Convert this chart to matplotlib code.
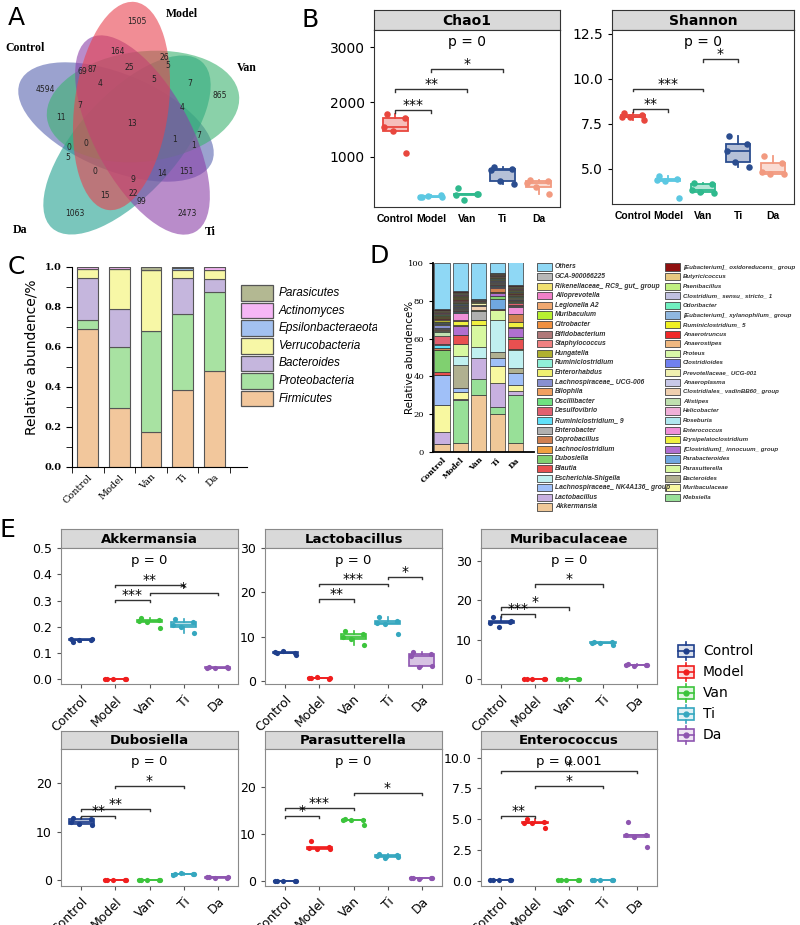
import numpy as np
import matplotlib.pyplot as plt
from matplotlib.patches import Ellipse, Rectangle
from matplotlib.colors import to_rgba

W, H = 800, 925

# ---------------- data ----------------
groups = ['Control', 'Model', 'Van', 'Ti', 'Da']

# A: Venn counts and where each number sits
venn_counts = [1505, 164, 26, 5, 25, 69, 87, 4, 5, 7, 865, 4594, 7, 4, 11, 13,
               7, 1, 1, 0, 0, 5, 0, 151, 14, 9, 15, 22, 99, 1063, 2473]
venn_xy = [(137, 22), (117, 51), (164, 58), (168, 66), (129, 67), (82, 71), (92, 69),
           (100, 84), (154, 80), (190, 84), (220, 96), (45, 90), (80, 106), (182, 107),
           (61, 118), (132, 123), (199, 135), (175, 140), (194, 145), (86, 143), (69, 148),
           (68, 158), (95, 172), (186, 171), (162, 174), (133, 179), (105, 196),
           (133, 194), (141, 201), (75, 213), (187, 213)]

# B: alpha diversity
chao1 = [[1782, 1718, 1545, 1470, 1073],
         [280, 300, 265, 290, 270],
         [440, 330, 310, 220, 320],
         [820, 780, 760, 560, 510],
         [590, 570, 530, 460, 320]]
shannon = [[8.1, 8.0, 7.9, 7.85, 7.7],
           [4.6, 4.45, 4.4, 4.35, 3.4],
           [4.2, 4.15, 3.85, 3.7, 3.65],
           [6.8, 6.4, 6.0, 5.4, 5.1],
           [5.7, 5.35, 4.8, 4.7, 4.7]]
chao1_sig = [(1, 2, 1855, '***'), (1, 3, 2236, '**'), (2, 4, 2600, '*')]
shannon_sig = [(1, 2, 8.33, '**'), (1, 3, 9.44, '***'), (3, 4, 11.1, '*')]

# C: phylum level
phyla = ['Firmicutes', 'Proteobacteria', 'Bacteroides', 'Verrucobacteria',
         'Epsilonbacteraeota', 'Actinomyces', 'Parasicutes']
phy_firmicutes = [0.69, 0.297, 0.177, 0.385, 0.48]
phy_proteo = [0.045, 0.303, 0.503, 0.38, 0.396]
phy_bacteroides = [0.21, 0.19, 0.0, 0.18, 0.064]
phy_verruco = [0.045, 0.20, 0.305, 0.04, 0.045]
phy_epsilon = [0.0, 0.0, 0.0, 0.01, 0.0]
phy_actino = [0.01, 0.01, 0.0, 0.005, 0.015]
phy_parasi = [0.0, 0.0, 0.015, 0.0, 0.0]

# D: genus level (stack order, bottom -> top)
d_taxa = ['Akkermansia', 'Klebsiella', 'Lactobacillus', 'Muribaculaceae',
          'Lachnospiraceae_ NK4A136_ group', 'Bacteroides', 'Escherichia-Shigella',
          'Parasutterella', 'Blautia', 'Parabacteroides', 'Dubosiella',
          '[Clostridium]_ innocuum_ group', 'Lachnoclostridium', 'Erysipelatoclostridium',
          'Coprobacillus', 'Enterococcus', 'Enterobacter', 'Roseburia',
          'Ruminiclostridium_ 9', 'Helicobacter', 'Desulfovibrio', 'Alistipes',
          'Oscillibacter', 'Clostridiales_ vadinBB60_ group', 'Bilophila', 'Anaeroplasma',
          'Lachnospiraceae_ UCG-006', 'Prevotellaceae_ UCG-001', 'Enterorhabdus',
          'Clostridioides', 'Ruminiclostridium', 'Proteus', 'Hungatella', 'Anaerostipes',
          'Staphylococcus', 'Anaerotruncus', 'Bifidobacterium', 'Ruminiclostridium_ 5',
          'Citrobacter', '[Eubacterium]_ xylanophilum_ group', 'Muribaculum', 'Odoribacter',
          'Legionella A2', 'Clostridium_ sensu_ stricto_ 1', 'Alloprevotella',
          'Paenibacillus', 'Rikenellaceae_ RC9_ gut_ group', 'Butyricicoccus',
          'GCA-900066225', '[Eubacterium]_ oxidoreducens_ group', 'Others']
d_control = [4.0, 0.0, 6.5, 14.5, 16.0, 0.0, 0.0, 0.0, 1.5, 0.0,
             11.5, 0.0, 0.0, 0.0, 1.0, 0.0, 0.0, 0.0, 1.5, 0.5,
             4.5, 2.0, 0.5, 0.5, 0.5, 0.5, 1.5, 0.3, 0.5, 0.3,
             0.5, 0.3, 1.0, 0.3, 0.3, 0.3, 0.3, 0.3, 0.3, 0.3,
             0.3, 0.8, 0.3, 0.3, 0.3, 0.3, 0.3, 0.3, 0.3, 0.5, 24.3]
d_model = [4.5, 23.0, 0.7, 3.3, 2.5, 12.0, 5.0, 6.0, 5.0, 0.0,
           0.0, 4.5, 0.5, 2.5, 0.5, 3.5, 0.3, 0.3, 0.3, 0.3,
           0.5, 0.3, 0.3, 0.3, 0.3, 0.3, 0.5, 0.3, 0.5, 0.5,
           0.3, 0.3, 0.5, 0.3, 0.5, 0.3, 0.3, 0.3, 0.5, 0.3,
           0.3, 0.3, 0.3, 0.3, 0.3, 0.3, 0.3, 0.3, 0.3, 0.5, 14.7]
d_van = [30.0, 8.5, 11.5, 0.0, 0.0, 0.0, 5.5, 11.5, 0.0, 0.0,
         0.0, 0.0, 0.0, 3.0, 0.0, 0.0, 4.5, 0.0, 0.0, 0.0,
         0.0, 0.5, 0.0, 2.0, 0.0, 1.0, 0.0, 1.0, 0.5, 0.0,
         0.0, 0.5, 0.0, 0.0, 0.3, 0.0, 0.0, 0.0, 0.0, 0.0,
         0.0, 0.0, 0.0, 0.0, 0.0, 0.0, 0.0, 0.0, 0.4, 0.3, 19.0]
d_ti = [20.0, 4.0, 12.5, 9.0, 4.5, 3.0, 17.0, 5.0, 0.5, 5.5,
        1.3, 1.7, 0.5, 0.3, 2.0, 0.5, 0.3, 0.3, 0.3, 0.3,
        0.5, 0.3, 0.3, 0.3, 0.3, 0.3, 0.3, 0.3, 0.3, 0.3,
        0.3, 0.3, 0.5, 0.3, 0.1, 0.1, 0.1, 0.1, 0.1, 0.1,
        0.1, 0.1, 0.1, 0.1, 0.1, 0.1, 0.1, 0.1, 0.1, 0.1, 5.3]
d_da = [5.0, 25.0, 2.5, 3.0, 6.5, 2.5, 9.5, 0.5, 5.5, 0.0,
        0.7, 5.0, 0.3, 3.0, 4.0, 3.5, 0.3, 0.3, 0.3, 0.5,
        1.0, 0.3, 0.5, 0.3, 0.3, 0.3, 0.5, 0.3, 0.5, 0.3,
        0.3, 0.3, 0.3, 0.3, 0.3, 0.3, 0.3, 0.3, 0.3, 0.3,
        0.3, 0.3, 0.3, 0.3, 0.3, 0.3, 0.3, 0.3, 0.3, 0.3, 13.0]
d_legend_col1 = ['Others', 'GCA-900066225', 'Rikenellaceae_ RC9_ gut_ group', 'Alloprevotella',
                 'Legionella A2', 'Muribaculum', 'Citrobacter', 'Bifidobacterium',
                 'Staphylococcus', 'Hungatella', 'Ruminiclostridium', 'Enterorhabdus',
                 'Lachnospiraceae_ UCG-006', 'Bilophila', 'Oscillibacter', 'Desulfovibrio',
                 'Ruminiclostridium_ 9', 'Enterobacter', 'Coprobacillus', 'Lachnoclostridium',
                 'Dubosiella', 'Blautia', 'Escherichia-Shigella',
                 'Lachnospiraceae_ NK4A136_ group', 'Lactobacillus', 'Akkermansia']
d_legend_col2 = ['[Eubacterium]_ oxidoreducens_ group', 'Butyricicoccus', 'Paenibacillus',
                 'Clostridium_ sensu_ stricto_ 1', 'Odoribacter',
                 '[Eubacterium]_ xylanophilum_ group', 'Ruminiclostridium_ 5', 'Anaerotruncus',
                 'Anaerostipes', 'Proteus', 'Clostridioides', 'Prevotellaceae_ UCG-001',
                 'Anaeroplasma', 'Clostridiales_ vadinBB60_ group', 'Alistipes', 'Helicobacter',
                 'Roseburia', 'Enterococcus', 'Erysipelatoclostridium',
                 '[Clostridium]_ innocuum_ group', 'Parabacteroides', 'Parasutterella',
                 'Bacteroides', 'Muribaculaceae', 'Klebsiella']

# E: key genera
akkermansia = [[0.143, 0.148, 0.155, 0.150, 0.152], [0.0, 0.0, 0.0, 0.0, 0.0],
               [0.235, 0.225, 0.222, 0.218, 0.196], [0.228, 0.22, 0.205, 0.2, 0.178],
               [0.048, 0.045, 0.043, 0.042, 0.044]]
lactobacillus = [[6.4, 6.3, 6.5, 6.8, 5.8], [0.6, 0.5, 0.7, 0.8, 0.6],
                 [11.2, 10.5, 10.0, 9.5, 8.2], [14.5, 13.5, 13.0, 12.8, 10.6],
                 [6.6, 6.0, 5.6, 3.2, 3.3]]
muribaculaceae = [[15.7, 14.6, 14.2, 13.2, 14.8], [0.0, 0.0, 0.0, 0.0, 0.0],
                  [0.0, 0.0, 0.0, 0.0, 0.0], [9.5, 9.4, 9.3, 9.2, 8.6],
                  [4.0, 3.7, 3.6, 3.3, 3.5]]
dubosiella = [[12.8, 12.7, 12.0, 11.6, 11.5], [0.0, 0.0, 0.0, 0.0, 0.0],
              [0.0, 0.0, 0.0, 0.0, 0.0], [1.4, 1.3, 1.2, 1.5, 1.3],
              [0.7, 0.6, 0.7, 0.6, 0.7]]
parasutterella = [[0.0, 0.0, 0.0, 0.0, 0.0], [8.4, 7.2, 7.0, 6.8, 6.7],
                  [13.2, 13.0, 12.9, 12.9, 11.8], [5.7, 5.5, 5.2, 4.9, 5.0],
                  [0.7, 0.5, 0.6, 0.4, 0.7]]
enterococcus = [[0.05, 0.08, 0.05, 0.04, 0.06], [5.0, 4.8, 4.7, 4.65, 4.25],
                [0.08, 0.08, 0.08, 0.08, 0.08], [0.08, 0.08, 0.08, 0.08, 0.08],
                [4.75, 3.75, 3.7, 3.55, 2.75]]
akk_sig = [(2, 3, 0.303, '***'), (2, 4, 0.36, '**'), (3, 5, 0.33, '*')]
lac_sig = [(2, 3, 18.4, '**'), (2, 4, 21.9, '***'), (4, 5, 23.5, '*')]
mur_sig = [(1, 2, 16.5, '***'), (1, 3, 18.3, '*'), (2, 4, 24.1, '*')]
dub_sig = [(1, 2, 13.3, '**'), (1, 3, 14.8, '**'), (2, 4, 19.5, '*')]
par_sig = [(1, 2, 13.8, '*'), (1, 3, 15.5, '***'), (3, 5, 18.7, '*')]
ent_sig = [(1, 2, 5.28, '**'), (2, 4, 7.72, '*'), (1, 5, 8.92, '*')]

# ---------------- styling ----------------
venn_colors = {'Control': '#5965b0', 'Model': '#e8424e', 'Van': '#3cb371',
               'Ti': '#8b3fa8', 'Da': '#22a090'}
venn_ends = {'Control': ((20, 82), (212, 162)), 'Model': ((135, 2), (108, 210)),
             'Van': ((47, 118), (239, 95)), 'Ti': ((90, 38), (195, 232)),
             'Da': ((52, 228), (202, 62))}
venn_minor = {'Control': 96, 'Model': 94, 'Van': 110, 'Ti': 96, 'Da': 100}
b_colors = ['#e8473e', '#5cc8e2', '#2fb98d', '#2b4d8f', '#f29a80']
e_colors = ['#1f3f8c', '#f01e1e', '#3cc43c', '#35a7bf', '#8e55b0']
phy_colors = ['#f2c79c', '#a8e2a2', '#c5b6dd', '#f7f7a6', '#a3c1f0', '#f5b6f5', '#b3b892']
d_colors = {
    'Others': '#8fd8f5', 'GCA-900066225': '#b8b8b8', 'Rikenellaceae_ RC9_ gut_ group': '#f0e070',
    'Alloprevotella': '#f080c8', 'Legionella A2': '#f0a870', 'Muribaculum': '#b8f030',
    'Citrobacter': '#f09040', 'Bifidobacterium': '#b07878', 'Staphylococcus': '#f08080',
    'Hungatella': '#b0b030', 'Ruminiclostridium': '#90f0d8', 'Enterorhabdus': '#f0f070',
    'Lachnospiraceae_ UCG-006': '#8890d0', 'Bilophila': '#f0a060', 'Oscillibacter': '#70e080',
    'Desulfovibrio': '#e06070', 'Ruminiclostridium_ 9': '#60e0f8', 'Enterobacter': '#b0b0b0',
    'Coprobacillus': '#d08050', 'Lachnoclostridium': '#f0a040', 'Dubosiella': '#80d070',
    'Blautia': '#e85050', 'Escherichia-Shigella': '#c0f0f0',
    'Lachnospiraceae_ NK4A136_ group': '#a0c0f8', 'Lactobacillus': '#c8b0e0',
    'Akkermansia': '#f0c898', '[Eubacterium]_ oxidoreducens_ group': '#901010',
    'Butyricicoccus': '#e8c880', 'Paenibacillus': '#c0f080',
    'Clostridium_ sensu_ stricto_ 1': '#c0c0e0', 'Odoribacter': '#70f0c0',
    '[Eubacterium]_ xylanophilum_ group': '#90b8e0', 'Ruminiclostridium_ 5': '#f0f020',
    'Anaerotruncus': '#f02828', 'Anaerostipes': '#f0b880', 'Proteus': '#d8f8a8',
    'Clostridioides': '#7080f0', 'Prevotellaceae_ UCG-001': '#f0f0b0',
    'Anaeroplasma': '#c8c8e8', 'Clostridiales_ vadinBB60_ group': '#f0d0b0',
    'Alistipes': '#c0e0b0', 'Helicobacter': '#f0b0d8', 'Roseburia': '#b0e8f0',
    'Enterococcus': '#f090d8', 'Erysipelatoclostridium': '#f0f040',
    '[Clostridium]_ innocuum_ group': '#b070d0', 'Parabacteroides': '#70a8e0',
    'Parasutterella': '#d8f8a0', 'Bacteroides': '#b0b090', 'Muribaculaceae': '#f8f8a0',
    'Klebsiella': '#98e098'}
jit = [-0.25, 0.27, -0.32, -0.08, 0.3, 0.1]


def rect(x0, y0, x1, y1):
    return [x0 / W, 1 - y1 / H, (x1 - x0) / W, (y1 - y0) / H]


def facet(x0, y0, ys, x1, y1, title, edge, fs):
    st = fig.add_axes(rect(x0, y0, x1, ys))
    st.set_facecolor('#d9d9d9')
    st.set_xticks([])
    st.set_yticks([])
    for s in st.spines.values():
        s.set_color(edge)
    st.text(0.5, 0.45, title, ha='center', va='center', fontweight='bold',
            fontsize=fs, transform=st.transAxes)
    ax = fig.add_axes(rect(x0, ys, x1, y1))
    for s in ax.spines.values():
        s.set_color(edge)
    ax.set_xlim(0.4, 5.6)
    return ax


def boxes(ax, data, colors, width, lw=1.1, ms=14):
    for i, (vals, c) in enumerate(zip(data, colors)):
        ax.boxplot([vals], positions=[i + 1], widths=width, patch_artist=True,
                   showfliers=False, showcaps=False,
                   medianprops=dict(color=c, lw=lw),
                   boxprops=dict(facecolor=to_rgba(c, 0.35), edgecolor=c, lw=lw),
                   whiskerprops=dict(color=c, lw=lw))
        ax.scatter(np.array(jit[:len(vals)]) + i + 1, vals, color=c, s=ms, zorder=3,
                   linewidths=0)


def brackets(ax, sig, tick, fs):
    for a, b, y, lab in sig:
        ax.plot([a, a, b, b], [y - tick, y, y, y - tick], color='#333333', lw=1)
        ax.text((a + b) / 2, y - tick * 0.8, lab, ha='center', va='bottom', fontsize=fs)


fig = plt.figure(figsize=(8, 9.25), dpi=100)
ov = fig.add_axes([0, 0, 1, 1])
ov.set_xlim(0, W)
ov.set_ylim(H, 0)
ov.axis('off')

# ---------------- A ----------------
for name in ['Control', 'Da', 'Van', 'Ti', 'Model']:
    (xa, ya), (xb, yb) = venn_ends[name]
    ang = np.degrees(np.arctan2(yb - ya, xb - xa))
    ln = np.hypot(xb - xa, yb - ya)
    ov.add_patch(Ellipse(((xa + xb) / 2, (ya + yb) / 2), ln, venn_minor[name], angle=ang,
                         facecolor=venn_colors[name], alpha=0.6, edgecolor='none'))
for n, (x, y) in zip(venn_counts, venn_xy):
    ov.text(x, y, str(n), ha='center', va='center', fontsize=5.5, color='#222222')
for name, (x, y) in zip(groups, [(25, 48), (182, 14), (247, 68), (210, 232), (20, 230)]):
    ov.text(x, y, name, ha='center', va='center', fontsize=8.5, fontweight='bold',
            family='Liberation Serif')
for lab, (x, y) in zip('ABCDE', [(8, 18), (302, 20), (8, 267), (370, 256), (0, 530)]):
    ov.text(x, y, lab, fontsize=18, va='center', ha='left')

# ---------------- B ----------------
for data, title, sig, (x0, x1, y1), lim, ticks, tick, pval in [
        (chao1, 'Chao1', chao1_sig, (374, 560, 207), (90, 3310), [1000, 2000, 3000], 50, 3090),
        (shannon, 'Shannon', shannon_sig, (612, 794, 204), (3.05, 12.7), [5.0, 7.5, 10.0, 12.5],
         0.15, 12.05)]:
    ax = facet(x0, 10, 30, x1, y1, title, '#333333', 10)
    boxes(ax, data, b_colors, 0.7, lw=1.3, ms=22)
    brackets(ax, sig, tick, 10)
    ax.text(3, pval, 'p = 0', ha='center', va='center', fontsize=10)
    ax.set_ylim(*lim)
    ax.set_yticks(ticks)
    ax.set_xticks(range(1, 6))
    ax.set_xticklabels(groups, fontweight='bold', fontsize=7.5, family='Liberation Sans')
    ax.tick_params(axis='y', labelsize=10, length=3)
    ax.tick_params(axis='x', length=0, pad=5)

# ---------------- C ----------------
axc = fig.add_axes(rect(72, 267, 247, 467))
x = np.arange(5)
bottom = np.zeros(5)
for vals, c in zip([phy_firmicutes, phy_proteo, phy_bacteroides, phy_verruco, phy_epsilon,
                    phy_actino, phy_parasi], phy_colors):
    axc.bar(x, vals, 0.66, bottom=bottom, color=c, edgecolor='#555555', lw=0.8)
    bottom += np.array(vals)
axc.set_xlim(-0.49, 5.04)
axc.set_ylim(0, 1.0)
for s in ['top', 'right']:
    axc.spines[s].set_visible(False)
axc.set_yticks(np.arange(0, 1.01, 0.2))
axc.set_yticklabels(['0.0', '0.2', '0.4', '0.6', '0.8', '1.0'], family='DejaVu Serif',
                    fontsize=7, fontweight='bold')
axc.set_yticks(np.arange(0.1, 1.0, 0.2), minor=True)
axc.tick_params(axis='y', which='both', length=4)
axc.set_xticks(x)
axc.set_xticklabels(groups, rotation=45, ha='right', rotation_mode='anchor',
                    family='DejaVu Serif', fontsize=7)
axc.set_xticks(np.arange(-0.5, 5.0, 1), minor=True)
axc.tick_params(axis='x', which='major', length=0, pad=4)
axc.tick_params(axis='x', which='minor', length=4)
ov.text(32, 357, 'Relative abundence/%', rotation=90, ha='center', va='center', fontsize=10)

leg_c = fig.add_axes(rect(236, 280, 377, 416))
leg_c.set_xlim(236, 377)
leg_c.set_ylim(416, 280)
leg_c.axis('off')
for k, (name, c) in enumerate(list(zip(phyla, phy_colors))[::-1]):
    yc = 293 + k * 17.6
    leg_c.add_patch(Rectangle((241, yc - 7.8), 32, 15.6, facecolor=c, edgecolor='#555555',
                              lw=0.9))
    leg_c.text(279, yc, name, fontsize=8.5, style='italic', va='center', clip_on=True,
               family='Liberation Sans')

# ---------------- D ----------------
axd = fig.add_axes(rect(433, 263, 534, 452))
bottom = np.zeros(5)
for k, name in enumerate(d_taxa):
    vals = np.array([d_control[k], d_model[k], d_van[k], d_ti[k], d_da[k]])
    axd.bar(x, vals, 0.82, bottom=bottom, color=d_colors[name], edgecolor='#333333', lw=0.5)
    bottom += vals
axd.set_xlim(-0.49, 5.0)
axd.set_ylim(0, 100)
for s in ['top', 'right']:
    axd.spines[s].set_visible(False)
axd.spines['left'].set_linewidth(1.3)
axd.spines['bottom'].set_linewidth(1.3)
axd.set_yticks(range(0, 101, 20))
axd.tick_params(axis='y', labelsize=6, length=3)
for t in axd.get_yticklabels():
    t.set_family('DejaVu Serif')
axd.set_xticks(x)
axd.set_xticklabels(groups, rotation=45, ha='right', rotation_mode='anchor',
                    family='DejaVu Serif', fontsize=5.5, fontweight='bold')
axd.tick_params(axis='x', length=0, pad=3)
ov.text(410, 357, 'Relative abundence%', rotation=90, ha='center', va='center', fontsize=7.5)
for col, (px, tx, fs) in [(d_legend_col1, (537, 555, 4.9)), (d_legend_col2, (665, 683, 4.4))]:
    for k, name in enumerate(col):
        yc = 267 + k * 9.6
        ov.add_patch(Rectangle((px, yc - 3.6), 15, 7.2, facecolor=d_colors[name],
                               edgecolor='#444444', lw=0.6))
        ov.text(tx, yc, name, fontsize=fs, style='italic', fontweight='bold',
                color='#333333', va='center', family='Liberation Sans')

# ---------------- E ----------------
e_panels = [
    (akkermansia, 'Akkermansia', akk_sig, (61, 529, 548, 238, 684), (-0.018, 0.5),
     np.arange(0, 0.51, 0.1), ['0.0', '0.1', '0.2', '0.3', '0.4', '0.5'], 'p = 0', 0.453),
    (lactobacillus, 'Lactobacillus', lac_sig, (265, 529, 548, 442, 684), (-0.7, 30),
     [0, 10, 20, 30], None, 'p = 0', 27.2),
    (muribaculaceae, 'Muribaculaceae', mur_sig, (481, 529, 548, 657, 684), (-1.2, 33.3),
     [0, 10, 20, 30], None, 'p = 0', 30.1),
    (dubosiella, 'Dubosiella', dub_sig, (61, 731, 749, 238, 886), (-1.15, 27.1),
     [0, 10, 20], None, 'p = 0', 24.5),
    (parasutterella, 'Parasutterella', par_sig, (265, 731, 749, 442, 886), (-1.1, 28.0),
     [0, 10, 20], None, 'p = 0', 25.3),
    (enterococcus, 'Enterococcus', ent_sig, (481, 731, 749, 657, 886), (-0.43, 10.7),
     [0, 2.5, 5.0, 7.5, 10.0], ['0.0', '2.5', '5.0', '7.5', '10.0'], 'p = 0.001', 9.67)]
for data, title, sig, (x0, y0, ys, x1, y1), lim, ticks, tlabels, ptxt, py in e_panels:
    ax = facet(x0, y0, ys, x1, y1, title, '#8a8a8a', 9.5)
    boxes(ax, data, e_colors, 0.75, lw=1.2, ms=14)
    ax.set_ylim(*lim)
    brackets(ax, sig, (lim[1] - lim[0]) * 0.018, 10)
    ax.text(3, py, ptxt, ha='center', va='center', fontsize=9.5)
    ax.set_yticks(ticks)
    if tlabels is not None:
        ax.set_yticklabels(tlabels)
    ax.set_xticks(range(1, 6))
    ax.set_xticklabels(groups, rotation=45, ha='right', rotation_mode='anchor')
    ax.tick_params(labelsize=9, length=3, color='#555555')

for k, (name, c) in enumerate(zip(groups, e_colors)):
    yc = 651 + k * 21
    ov.add_patch(Rectangle((678, yc - 6), 16, 12, facecolor=to_rgba(c, 0.15),
                           edgecolor=c, lw=1.2))
    ov.plot([686, 686], [yc - 9, yc - 6], color=c, lw=1.2)
    ov.plot([686, 686], [yc + 6, yc + 9], color=c, lw=1.2)
    ov.plot([678, 694], [yc, yc], color=c, lw=1.2)
    ov.plot(686, yc, 'o', color=c, ms=3.5)
    ov.text(703, yc, name, fontsize=10, va='center')

fig.savefig('out.png', dpi=100)
